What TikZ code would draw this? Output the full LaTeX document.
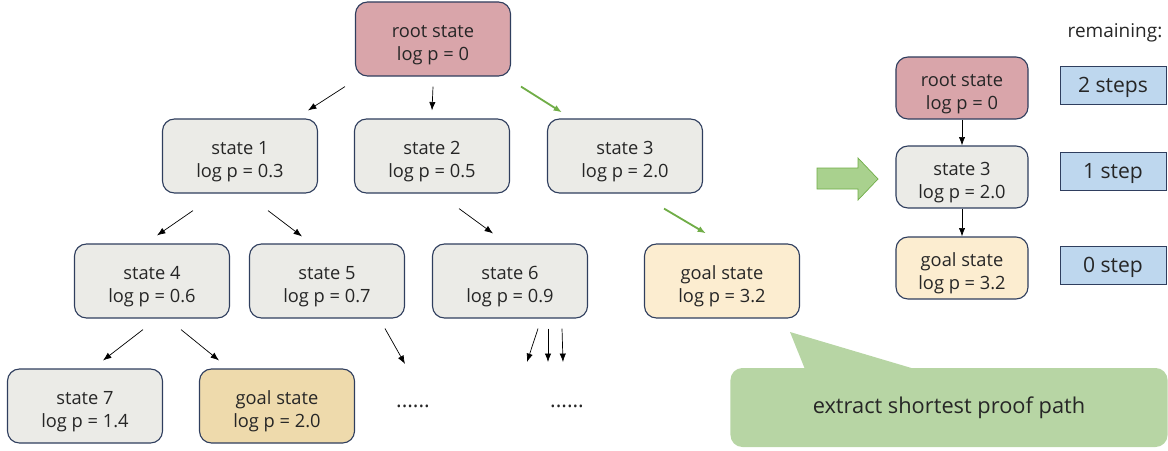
\documentclass[tikz,border=0pt]{standalone}
\usepackage{fontspec}
\setmainfont{Open Sans}
\usetikzlibrary{arrows.meta}

\definecolor{rootred}{RGB}{217,165,170}
\definecolor{stategray}{RGB}{235,235,231}
\definecolor{goallight}{RGB}{252,237,208}
\definecolor{goaldark}{RGB}{238,218,172}
\definecolor{boxline}{RGB}{47,62,94}
\definecolor{stepblue}{RGB}{190,215,238}
\definecolor{pathgreen}{RGB}{112,173,71}
\definecolor{calloutgreen}{RGB}{183,213,164}
\definecolor{bigarrowgreen}{RGB}{169,209,142}
\definecolor{txt}{RGB}{38,38,38}

\begin{document}
\begin{tikzpicture}[x=0.025cm, y=-0.025cm,
	every node/.style={text=txt},
	state/.style={draw=boxline, line width=0.8pt, rounded corners=0.3cm, minimum width=3.875cm, minimum height=1.85cm, align=center, text height=30pt, text depth=0pt, font=\fontsize{13}{16}\selectfont},
	small/.style={state, minimum width=3.3cm, minimum height=1.55cm},
	stepbox/.style={draw=boxline, line width=0.6pt, fill=stepblue, minimum width=2.65cm, minimum height=0.95cm, text depth=0pt, font=\fontsize{15}{17}\selectfont},
	arr/.style={-{Latex[length=6pt,width=4.5pt]}, line width=0.5pt},
	garr/.style={arr, draw=pathgreen, line width=1.3pt}]

	\useasboundingbox (0,0) rectangle (1168,450);

	% search tree
	\node[state, fill=rootred] (root) at (433,39) {root state\\log p = 0};
	\node[state, fill=stategray] (1) at (240,156) {state 1\\log p = 0.3};
	\node[state, fill=stategray] (2) at (432,156) {state 2\\log p = 0.5};
	\node[state, fill=stategray] (3) at (625,156) {state 3\\log p = 2.0};
	\node[state, fill=stategray] (4) at (152,281) {state 4\\log p = 0.6};
	\node[state, fill=stategray] (5) at (327,281) {state 5\\log p = 0.7};
	\node[state, fill=stategray] (6) at (510,281) {state 6\\log p = 0.9};
	\node[state, fill=goallight] (goal) at (722,281) {goal state\\log p = 3.2};
	\node[state, fill=stategray] (7) at (85,406) {state 7\\log p = 1.4};
	\node[state, fill=goaldark] (goal2) at (277,406) {goal state\\log p = 2.0};
	\node[font=\fontsize{15}{17}\selectfont] (more1) at (413,406) {......};
	\node[font=\fontsize{15}{17}\selectfont] (more2) at (567,406) {......};

	\path ([shift={(-88,10)}]root.south) edge[arr] ([shift={(68,-8)}]1.north);
	\path ([shift={(0,10)}]root.south) edge[arr] ([shift={(0,-8)}]2.north);
	\path ([shift={(88,10)}]root.south) edge[garr] ([shift={(-63,-6)}]3.north);
	\path ([shift={(-47,17)}]1.south) edge[arr] ([shift={(5,-8)}]4.north);
	\path ([shift={(28,17)}]1.south) edge[arr] ([shift={(-25,-7)}]5.north);
	\path ([shift={(27,15)}]2.south) edge[arr] ([shift={(-17,-10)}]6.north);
	\path ([shift={(39,15)}]3.south) edge[garr] ([shift={(-16,-10)}]goal.north);
	\path ([shift={(-9,11)}]4.south) edge[arr] ([shift={(18,-8)}]7.north);
	\path ([shift={(29,11)}]4.south) edge[arr] ([shift={(-58,-8)}]goal2.north);
	\path ([shift={(58,10)}]5.south) edge[arr] ([shift={(-8,-42)}]more1.center);
	\path ([shift={(28,10)}]6.south) edge[arr] ([shift={(-40,-44)}]more2.center);
	\path ([shift={(38,10)}]6.south) edge[arr] ([shift={(-19,-44)}]more2.center);
	\path ([shift={(52,10)}]6.south) edge[arr] ([shift={(-4,-44)}]more2.center);

	% big arrow
	\filldraw[fill=bigarrowgreen, draw=pathgreen, line width=0.5pt]
		(817,168) -- (858,168) -- (858,158) -- (878,179) -- (858,200) -- (858,189) -- (817,189) -- cycle;

	% extracted path
	\node[small, fill=rootred] (r0) at (962,88) {root state\\log p = 0};
	\node[small, fill=stategray] (r1) at (962,177) {state 3\\log p = 2.0};
	\node[small, fill=goallight] (r2) at (962,268) {goal state\\log p = 3.2};
	\path (r0) edge[arr] (r1);
	\path (r1) edge[arr] (r2);

	\node[font=\fontsize{13.5}{15}\selectfont] (remaining) at (1115,33) {remaining:};
	\node[stepbox] (st2) at (1113,85) {2 steps};
	\node[stepbox] (st1) at (1113,171) {1 step};
	\node[stepbox] (st0) at (1113,265) {0 step};

	% callout
	\coordinate (tip) at (790,332);
	\node[fill=calloutgreen, rounded corners=0.3cm, minimum width=10.925cm, minimum height=1.975cm, font=\fontsize{15.5}{18}\selectfont] (callout) at (949,407.5) {extract shortest proof path};
	\fill[calloutgreen] ([shift={(75,2)}]callout.north west) -- (tip) -- ([shift={(187,2)}]callout.north west) -- cycle;

\end{tikzpicture}
\end{document}
